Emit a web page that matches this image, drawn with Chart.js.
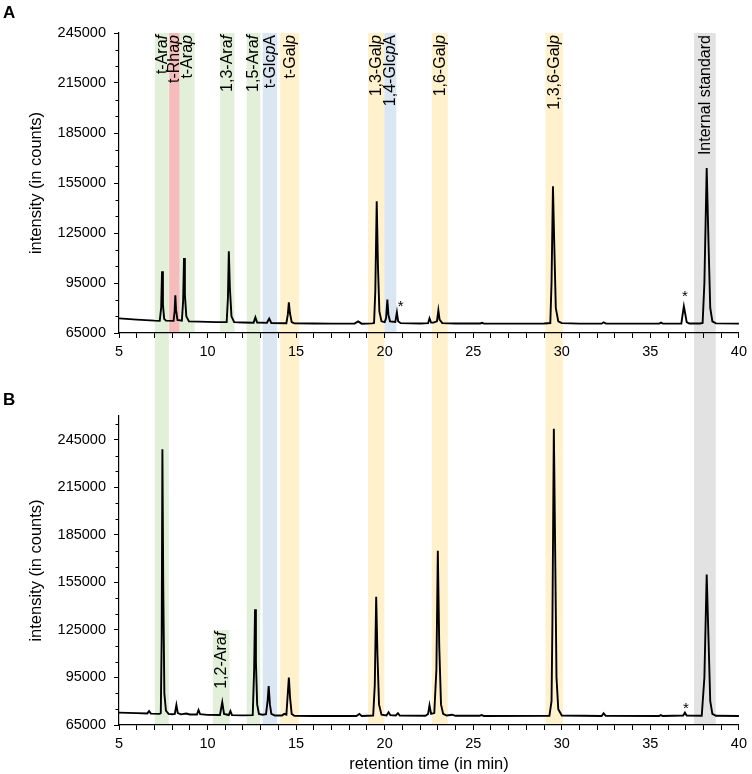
<!DOCTYPE html>
<html><head><meta charset="utf-8">
<script src="https://cdn.jsdelivr.net/npm/chart.js@4.4.0/dist/chart.umd.min.js"></script>
<style>
html,body{margin:0;padding:0;background:#fff;}
#wrap{position:relative;width:752px;height:774px;overflow:hidden;background:#fff;}
#cA{position:absolute;left:0;top:0;z-index:2;}
#cB{position:absolute;left:0;top:333px;z-index:1;}
</style></head><body>
<div id="wrap"><canvas id="cB" width="752" height="441"></canvas><canvas id="cA" width="752" height="380"></canvas></div>
<script>
// ---------- DATA ----------
// chromatogram A: [retention time (min), intensity (counts)]
const chromA = [[5.0,73800],[6.0,73000],[7.0,72400],[7.3,72300],[7.38,80000],[7.43,102000],[7.48,82000],[7.55,73500],[7.65,72400],
[8.08,72300],[8.14,78000],[8.18,87600],[8.22,79000],[8.3,72800],[8.55,72400],[8.62,84000],[8.67,110000],[8.72,88000],[8.8,75000],[8.95,72000],
[9.5,71800],[10.5,71500],[11.08,71500],[11.15,86000],[11.2,114000],[11.26,92000],[11.35,75000],[11.5,71500],[12.0,71300],[12.6,71200],[12.7,74400],[12.8,71300],
[13.35,71100],[13.48,73600],[13.6,71000],[14.45,70900],[14.53,76000],[14.59,83400],[14.65,77000],[14.75,71500],[14.9,70800],[16.0,70700],[17.0,70600],
[18.3,70600],[18.5,72000],[18.7,70600],[19.3,70800],[19.4,71000],[19.47,90000],[19.55,144000],[19.62,105000],[19.7,78000],[19.82,72000],
[20.0,71500],[20.08,74000],[20.15,85000],[20.21,76000],[20.3,72000],[20.6,71600],[20.69,77400],[20.76,72000],[20.9,70900],
[22.0,70700],[22.45,70900],[22.53,73800],[22.62,71200],[22.75,71200],[22.95,72000],[23.03,78600],[23.1,73000],[23.25,70900],[24.0,70700],
[25.4,70700],[25.5,71100],[25.6,70600],[28.0,70600],[29.0,70700],[29.35,71000],[29.42,95000],[29.5,153000],[29.57,120000],[29.66,80000],[29.8,72000],[30.0,70900],
[31.0,70600],[32.25,70600],[32.36,71400],[32.5,70600],[35.5,70600],[35.6,71200],[35.7,70600],[36.75,70700],[36.82,76000],[36.89,81000],[36.96,77000],[37.05,71500],[37.2,70700],
[37.8,70700],[37.95,71000],[38.05,95000],[38.18,164000],[38.28,120000],[38.38,80000],[38.5,72000],[38.7,70800],[40.0,70600]];

// chromatogram B
const chromB = [[5.0,72800],[6.0,72500],[6.6,72300],[6.7,73800],[6.8,72200],[7.3,72000],[7.36,72500],[7.41,120000],[7.45,239000],[7.5,150000],[7.56,85000],[7.65,74000],
[7.8,72000],[8.0,71800],[8.15,72000],[8.24,77600],[8.32,72500],[8.5,71700],[8.8,72200],[9.0,71600],[9.4,71600],[9.49,74500],[9.58,71800],[10.0,71400],
[10.7,71300],[10.83,79300],[10.93,72000],[11.2,71300],[11.29,73800],[11.38,71200],[12.0,71100],[12.55,71200],[12.63,100000],[12.68,138000],[12.73,105000],[12.8,78000],[12.9,72000],
[13.1,71500],[13.3,71800],[13.39,80000],[13.45,89600],[13.52,78000],[13.6,72000],[13.8,71000],[14.2,71000],[14.33,72000],[14.45,71500],[14.53,85000],[14.59,95000],[14.66,82000],[14.75,72000],[14.9,70800],
[16.0,70700],[18.4,70700],[18.57,72000],[18.7,70700],[19.35,71000],[19.44,90000],[19.52,146000],[19.59,110000],[19.68,78000],[19.82,71500],
[20.1,71000],[20.22,73000],[20.32,71200],[20.62,71000],[20.75,72400],[20.85,71000],[22.3,70800],[22.45,72000],[22.53,77400],[22.62,72000],
[22.8,72500],[22.92,100000],[23.0,175000],[23.08,115000],[23.18,78000],[23.3,72000],[23.5,71000],[23.8,71500],[24.0,70800],
[25.35,70800],[25.47,71300],[25.6,70700],[29.3,70800],[29.42,80000],[29.47,130000],[29.55,252000],[29.62,180000],[29.7,95000],[29.8,75000],[30.0,71000],
[32.25,70700],[32.36,72400],[32.48,70800],[35.5,70700],[35.58,71300],[35.7,70700],[36.85,71000],[36.95,72800],[37.05,71000],
[37.9,70800],[38.05,95000],[38.18,160000],[38.28,120000],[38.38,80000],[38.5,72000],[38.7,70800],[40.0,70700]];

// shaded retention windows: [start, end, sugar kind, label (_x_ = italic)]
const bandsA = [[7.02,7.81,'ara','t-Ara_f_'],[7.83,8.43,'rha','t-Rha_p_'],[8.43,9.27,'ara','t-Ara_p_'],
[10.71,11.52,'ara','1,3-Ara_f_'],[12.21,12.98,'ara','1,5-Ara_f_'],[13.11,13.92,'glc','t-Glc_p_A'],[14.1,15.17,'gal','t-Gal_p_'],
[19.06,19.98,'gal','1,3-Gal_p_'],[19.98,20.66,'glc','1,4-Glc_p_A'],[22.66,23.56,'gal','1,6-Gal_p_'],[29.08,30.06,'gal','1,3,6-Gal_p_'],
[37.47,38.69,'std','Internal standard']];
// panel B: [start, end, kind, label, top intensity (null = full height)]
const bandsB = [[7.02,7.81,'ara','',null],[10.3,11.24,'ara','1,2-Ara_f_',125000],[12.21,12.98,'ara','',null],[13.11,13.92,'glc','',null],
[14.1,15.17,'gal','',null],[19.06,19.98,'gal','',null],[22.66,23.56,'gal','',null],[29.08,30.06,'gal','',null],[37.47,38.69,'std','',null]];

// asterisk marks [time, intensity]
const starsA = [[20.9,83400],[36.95,89200]];
const starsB = [[37.0,78100]];

// tick labels
const yLabelsA = [65000,95000,125000,155000,185000,215000,245000];
const yLabelsB = [65000,95000,125000,155000,185000,215000,245000];
const xLabels = [5,10,15,20,25,30,35,40];

// ---------- STYLE ----------
const FONT = "'Liberation Sans', Arial, Helvetica, sans-serif";
const kindColor = {ara:'#e2efd9', rha:'#f6bcbc', glc:'#dbe6f3', gal:'#fff1cc', std:'#e2e2e2'};

function parseLabel(s){
  const parts = s.split('_'); const out=[];
  parts.forEach((p,i)=>{ if(p) out.push([p, i%2===1]); });
  return out;
}

const deco = {
  id:'deco',
  beforeDraw(chart, args, o){
    const {ctx, chartArea:ca, scales:{x,y}} = chart;
    ctx.save();
    o.bands.forEach(b=>{
      const x0=x.getPixelForValue(b[0]), x1=x.getPixelForValue(b[1]);
      let top;
      if (o.fullToCanvasTop) top = (b[4]==null) ? 0 : y.getPixelForValue(b[4]);
      else top = ca.top;
      ctx.fillStyle = kindColor[b[2]];
      ctx.fillRect(x0, top, x1-x0, ca.bottom-top);
    });
    ctx.restore();
  },
  afterDraw(chart, args, o){
    const {ctx, chartArea:ca, scales:{x,y}} = chart;
    ctx.save();
    // minor y ticks
    ctx.strokeStyle='#000'; ctx.lineWidth=1;
    for(let v=65000; v<=y.max; v+=10000){
      if(o.yLabels.includes(v)) continue;
      const py=Math.round(y.getPixelForValue(v))+0.5;
      ctx.beginPath(); ctx.moveTo(ca.left-3.5,py); ctx.lineTo(ca.left,py); ctx.stroke();
    }
    // band labels
    ctx.fillStyle='#000'; ctx.textBaseline='middle';
    o.bands.forEach(b=>{
      if(!b[3]) return;
      const cx=(x.getPixelForValue(b[0])+x.getPixelForValue(b[1]))/2 + 0.5;
      let top = ca.top;
      if (o.fullToCanvasTop && b[4]!=null) top = y.getPixelForValue(b[4]);
      const segs=parseLabel(b[3]);
      let total=0;
      segs.forEach(s=>{ctx.font=(s[1]?'italic ':'')+'16px '+FONT; total+=ctx.measureText(s[0]).width;});
      ctx.save(); ctx.translate(cx, top+2); ctx.rotate(-Math.PI/2);
      let px=-total; ctx.textAlign='left';
      segs.forEach(s=>{ctx.font=(s[1]?'italic ':'')+'16px '+FONT; ctx.fillText(s[0],px,0); px+=ctx.measureText(s[0]).width;});
      ctx.restore();
    });
    // asterisks
    ctx.font='15px '+FONT; ctx.textAlign='center'; ctx.textBaseline='alphabetic';
    o.stars.forEach(s=>{ ctx.fillText('*', x.getPixelForValue(s[0]), y.getPixelForValue(s[1])+8.5); });
    // panel letter
    ctx.font='bold 17px '+FONT; ctx.textAlign='left';
    ctx.fillText(o.letter, 3, o.letterY);
    ctx.restore();
  }
};

function makeChart(id, cfg){
  return new Chart(document.getElementById(id), {
    type:'line',
    data:{datasets:[{data:cfg.data.map(p=>({x:p[0],y:p[1]})), borderColor:'#000', borderWidth:1.9, pointRadius:0, fill:false, tension:0}]},
    options:{
      responsive:false, animation:false, devicePixelRatio:1,
      layout:{padding:{top:cfg.padTop,right:10,left:0,bottom:0}},
      plugins:{legend:{display:false}, tooltip:{enabled:false},
        deco:{bands:cfg.bands, stars:cfg.stars, letter:cfg.letter, letterY:cfg.letterY, yLabels:cfg.yLabels, fullToCanvasTop:cfg.fullTop}},
      scales:{
        x:{type:'linear', min:5, max:40,
          ticks:{stepSize:1, autoSkip:false, maxRotation:0, color:'#000', font:{size:14.5,family:FONT}, padding:5,
            callback:v=> xLabels.includes(v)? String(v):''},
          grid:{drawOnChartArea:false, drawTicks:true, tickLength:5, tickColor:'#000', tickWidth:1},
          border:{display:true,color:'#000',width:1.2},
          title:{display:cfg.xTitle, text:'retention time (in min)', color:'#000', font:{size:16.5,family:FONT}, padding:{top:0,bottom:0}},
          afterFit:s=>{s.height=cfg.xH;}
        },
        y:{min:65000, max:cfg.yMax,
          afterBuildTicks:s=>{s.ticks=cfg.yLabels.map(v=>({value:v}));},
          ticks:{color:'#000', font:{size:14.5,family:FONT}, padding:8, callback:v=>String(v)},
          grid:{drawOnChartArea:false, drawTicks:true, tickLength:5, tickColor:'#000', tickWidth:1},
          border:{display:true,color:'#000',width:1.2},
          title:{display:true, text:'intensity (in counts)', color:'#000', font:{size:16.5,family:FONT}, padding:{top:27,bottom:0}},
          afterFit:s=>{s.width=119;}
        }
      }
    },
    plugins:[deco]
  });
}

makeChart('cB',{data:chromB, bands:bandsB, stars:starsB, letter:'B', letterY:72, yLabels:yLabelsB, yMax:260000, padTop:83, xH:49, xTitle:true, fullTop:true});
makeChart('cA',{data:chromA, bands:bandsA, stars:starsA, letter:'A', letterY:18, yLabels:yLabelsA, yMax:245000, padTop:33, xH:47, xTitle:false, fullTop:false});
</script>
</body></html>
